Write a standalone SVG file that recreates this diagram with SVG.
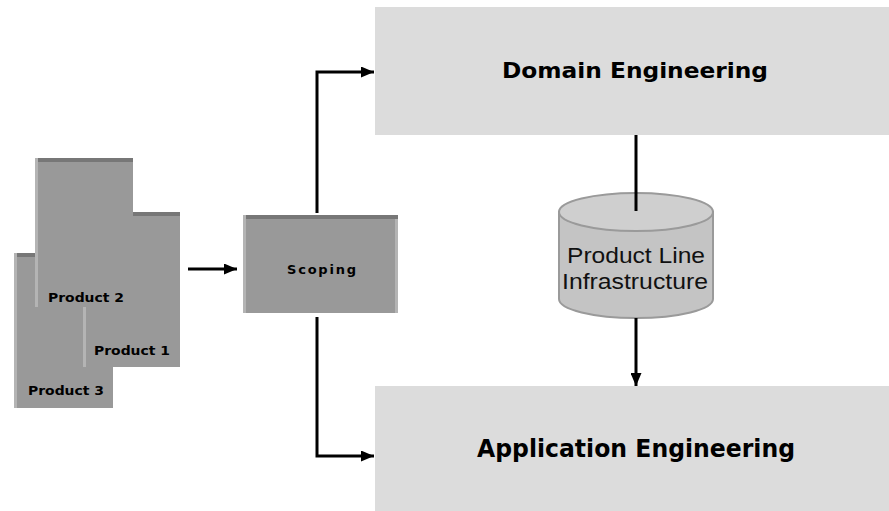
<svg xmlns="http://www.w3.org/2000/svg" width="889" height="511" viewBox="0 0 889 511">
  <defs>
    <style>
      .phase { fill: #dcdcdc; }
      .card { fill: #999999; }
      .card-top { fill: #777777; }
      .card-side { fill: #b4b4b4; }
      .lbl { font-family: "DejaVu Sans", "Liberation Sans", sans-serif; font-weight: bold; fill: #000; }
      .cyl-lbl { font-family: "Liberation Sans", "DejaVu Sans", sans-serif; fill: #111; }
      .wire { fill: none; stroke: #000; stroke-width: 3; }
    </style>
    <marker id="arrow" markerWidth="13" markerHeight="11" refX="13" refY="5.5" orient="auto" markerUnits="userSpaceOnUse">
      <path d="M0,0 L13,5.5 L0,11 Z" fill="#000"/>
    </marker>
  </defs>

  <rect width="889" height="511" fill="#ffffff"/>

  <!-- phase boxes -->
  <g id="domain-engineering">
    <rect class="phase" x="375" y="7" width="514" height="128"/>
    <text class="lbl" x="635" y="78" font-size="21" text-anchor="middle" textLength="266" lengthAdjust="spacingAndGlyphs">Domain Engineering</text>
  </g>
  <g id="application-engineering">
    <rect class="phase" x="375" y="386" width="514" height="125"/>
    <text class="lbl" x="636" y="457" font-size="25" text-anchor="middle" textLength="318" lengthAdjust="spacingAndGlyphs">Application Engineering</text>
  </g>

  <!-- product stack -->
  <g id="product-3">
    <rect class="card" x="14" y="253" width="99" height="155"/>
    <rect class="card-top" x="17" y="253" width="96" height="4"/>
    <rect class="card-side" x="14" y="253" width="3" height="155"/>
    <text class="lbl" x="28" y="395" font-size="13" textLength="76" lengthAdjust="spacingAndGlyphs">Product 3</text>
  </g>
  <g id="product-1">
    <rect class="card" x="83" y="212" width="97" height="155"/>
    <rect class="card-top" x="86" y="212" width="94" height="4"/>
    <rect class="card-side" x="83" y="212" width="3" height="155"/>
    <text class="lbl" x="94" y="355" font-size="13" textLength="76" lengthAdjust="spacingAndGlyphs">Product 1</text>
  </g>
  <g id="product-2">
    <rect class="card" x="35" y="158" width="98" height="149"/>
    <rect class="card-top" x="38" y="158" width="95" height="4"/>
    <rect class="card-side" x="35" y="158" width="3" height="149"/>
    <text class="lbl" x="48" y="302" font-size="13" textLength="76" lengthAdjust="spacingAndGlyphs">Product 2</text>
  </g>

  <!-- scoping -->
  <g id="scoping">
    <rect class="card" x="243" y="215" width="155" height="98"/>
    <rect class="card-top" x="246" y="215" width="152" height="4"/>
    <rect class="card-side" x="243" y="215" width="3" height="98"/>
    <rect class="card-side" x="395" y="219" width="3" height="94"/>
    <text class="lbl" x="321.5" y="274" font-size="13" text-anchor="middle" textLength="69" lengthAdjust="spacing">Scoping</text>
  </g>

  <!-- repository -->
  <g id="product-line-infrastructure">
    <path d="M559,212 L559,299 A77,19 0 0 0 713,299 L713,212 Z" fill="#c4c4c4" stroke="#9a9a9a" stroke-width="2"/>
    <ellipse cx="636" cy="212" rx="77" ry="19" fill="#cfcfcf" stroke="#9a9a9a" stroke-width="2"/>
    <text class="cyl-lbl" x="636" y="263" font-size="22" text-anchor="middle" textLength="138" lengthAdjust="spacingAndGlyphs">Product Line</text>
    <text class="cyl-lbl" x="635" y="289" font-size="22" text-anchor="middle" textLength="146" lengthAdjust="spacingAndGlyphs">Infrastructure</text>
  </g>

  <!-- connectors -->
  <g id="connectors">
    <line class="wire" x1="188" y1="269" x2="237" y2="269" marker-end="url(#arrow)"/>
    <polyline class="wire" points="317,213 317,72 374,72" marker-end="url(#arrow)"/>
    <polyline class="wire" points="317,317 317,456 374,456" marker-end="url(#arrow)"/>
    <line class="wire" x1="636" y1="135" x2="636" y2="211" stroke-width="2.5"/>
    <line class="wire" x1="636" y1="318" x2="636" y2="386" stroke-width="2.5" marker-end="url(#arrow)"/>
  </g>
</svg>
